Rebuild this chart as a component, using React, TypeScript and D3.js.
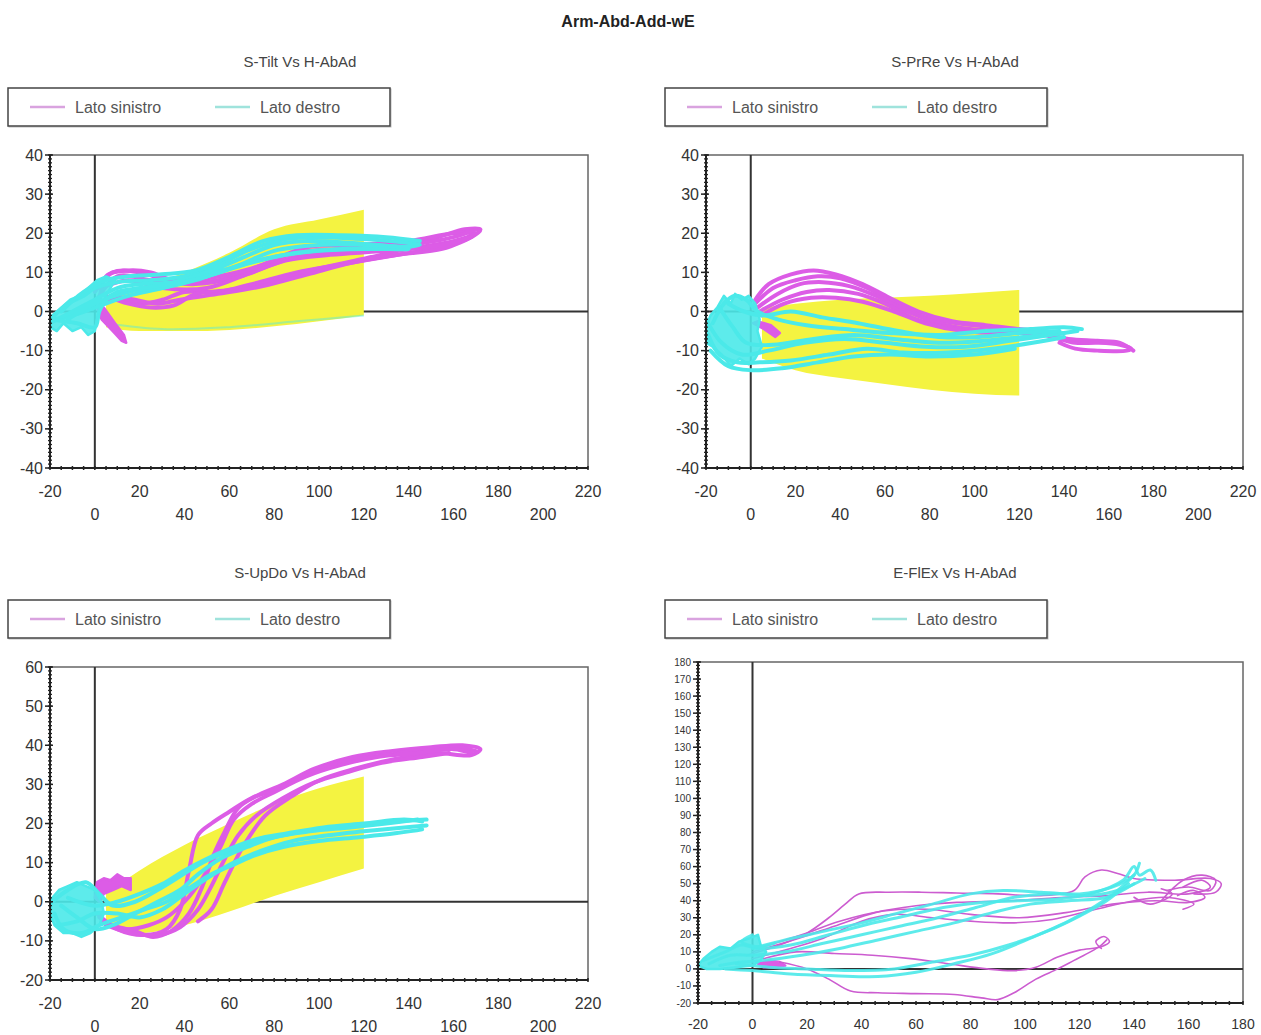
import React from 'react';
import * as d3 from 'd3';

// page title and legend labels
const chartTitle = 'Arm-Abd-Add-wE';
const legendLabels = ['Lato sinistro', 'Lato destro'];
const panelTitles = ['S-Tilt Vs H-AbAd', 'S-PrRe Vs H-AbAd', 'S-UpDo Vs H-AbAd', 'E-FlEx Vs H-AbAd'];

// tick values
const xTicksWide = [-20, 0, 20, 40, 60, 80, 100, 120, 140, 160, 180, 200, 220];
const xTicksElbow = [-20, 0, 20, 40, 60, 80, 100, 120, 140, 160, 180];
const yTicksShoulder = [-40, -30, -20, -10, 0, 10, 20, 30, 40];
const yTicksUpDo = [-20, -10, 0, 10, 20, 30, 40, 50, 60];
const yTicksElbow = [-20, -10, 0, 10, 20, 30, 40, 50, 60, 70, 80, 90, 100, 110, 120, 130, 140, 150, 160, 170, 180];

// normative (yellow) bands
const bandX = [5, 20, 40, 60, 80, 100, 120];
const tiltBandHi = [3, 6, 10, 15, 21, 23.5, 26];
const tiltBandLo = [-4, -5, -5, -4.7, -3.8, -2.5, -1];
const prreBandHi = [1, 2, 3, 3.5, 4, 4.7, 5.5];
const prreBandLo = [-12, -15, -17, -18.5, -20, -21, -21.5];
const updoBandHi = [2, 8, 14.5, 20, 25, 29, 32];
const updoBandLo = [-6, -8, -6, -2.5, 1.5, 5, 8.5];

type Pt = [number, number];

// S-Tilt traces
const tiltLeft: Pt[][] = [
  [[2, 2], [5, 9], [15, 10.5], [25, 10], [35, 8], [50, 8.5], [70, 11], [90, 15], [110, 16], [130, 17], [150, 18.5], [165, 21], [172, 21], [168, 19], [150, 16], [130, 14], [110, 12], [90, 10], [70, 7], [55, 5], [40, 5], [30, 3], [20, 2], [10, 3], [2, 2]],
  [[0, 5], [8, 10], [20, 10], [35, 7.5], [55, 8], [75, 12], [95, 16.5], [115, 17], [140, 18], [160, 20], [170, 20], [160, 18], [140, 16], [120, 13.5], [100, 11], [80, 8], [60, 5.5], [45, 4.5], [35, 1.5], [25, 1], [15, 2], [5, 4]],
  [[1, 3], [10, 9], [25, 8], [45, 7], [65, 9], [85, 13], [105, 14.5], [130, 15.5], [155, 17], [168, 19], [155, 16], [135, 14.5], [115, 12.5], [95, 9.5], [75, 6.5], [55, 4.5], [38, 3], [28, 2], [18, 3], [8, 4]],
  [[3, 6], [15, 8], [30, 6], [50, 6], [70, 10], [90, 14], [110, 15], [135, 16.5], [160, 19], [170, 21]],
];
const tiltLeftBlobs: Pt[][] = [
  [[1, 1], [3, -2], [8, -5], [12, -7.5], [14, -8], [13, -6], [9, -3], [4, 1]],
];
const tiltRight: Pt[][] = [
  [[-18, -1], [-12, 2], [-5, 4], [0, 6], [10, 7.5], [25, 8], [40, 9], [55, 12], [70, 16], [85, 18.5], [100, 19], [120, 18.5], [140, 17.5], [145, 17], [130, 16], [110, 16], [90, 15], [70, 12.5], [50, 9], [30, 6], [15, 4], [0, 1], [-10, -1], [-18, -2]],
  [[-20, -3], [-10, 0], [0, 3], [10, 6], [20, 7], [35, 7.5], [50, 10], [65, 13.5], [80, 17], [95, 18], [115, 17.5], [135, 16.5], [140, 16], [120, 16], [100, 15.5], [80, 14], [60, 11], [45, 8], [30, 6], [15, 5], [0, 2], [-12, -2]],
  [[-15, 0], [-5, 5], [5, 8], [15, 9], [30, 9.5], [45, 10.5], [60, 14], [75, 18], [90, 19.5], [110, 19.5], [130, 19], [145, 18]],
  [[-20, -2], [-8, -3], [0, -4], [2, 0], [5, 3], [10, 5], [20, 6], [35, 7], [50, 9], [65, 12], [80, 15.5], [100, 17], [120, 17], [140, 16.5]],
];
const tiltRightBlobs: Pt[][] = [
  [[-20, -4], [-19, -1], [-15, 1], [-11, 3], [-7, 4], [-3, 6], [1, 8], [5, 9], [9, 8], [6, 5], [3, 2], [1, -2], [0, -5], [-3, -6], [-6, -4], [-10, -5], [-14, -3], [-17, -5]],
];
const tiltFaint: Pt[][] = [
  [[5, -3], [30, -4.5], [60, -4], [90, -2.5], [120, -1]],
];

// S-PrRe traces
const prreLeft: Pt[][] = [
  [[2, 3], [8, 7], [18, 9.5], [28, 10.5], [38, 9.5], [50, 7], [62, 3.5], [75, 0], [90, -2.5], [105, -3.5], [120, -4.5], [130, -5]],
  [[2, 2], [10, 6], [20, 8], [30, 9], [40, 8.5], [52, 6], [65, 2], [78, -1.5], [92, -3], [108, -4], [122, -5], [135, -6.5], [145, -8], [155, -8], [165, -8.5], [170, -9.5], [168, -10], [155, -10], [145, -9.5], [138, -8]],
  [[3, 1], [12, 4.5], [22, 7], [32, 7.5], [44, 6.5], [56, 4], [70, 0], [84, -3], [98, -4.5], [114, -5], [128, -5.5], [142, -7], [155, -7.5], [165, -8], [171, -10]],
  [[4, 0], [14, 3], [25, 5], [35, 5.5], [48, 4.5], [60, 2], [74, -2], [88, -4], [104, -5], [120, -5.5], [135, -6]],
  [[5, -1], [15, 2], [27, 3.5], [38, 3.5], [50, 2.5], [64, 0], [78, -3], [95, -5], [112, -5.5], [128, -5]],
];
const prreLeftBlobs: Pt[][] = [
  [[1, -3], [6, -4.5], [11, -6.5], [13, -5.5], [9, -3.5], [3, -2.5]],
];
const prreRight: Pt[][] = [
  [[-17, -3], [-12, 2], [-7, 4], [-2, 3], [3, 0], [12, -2], [25, -3.5], [42, -4.5], [62, -5.5], [85, -6], [105, -5], [125, -4.5], [140, -4], [148, -4.5]],
  [[-19, -6], [-14, -11], [-6, -13], [4, -13], [18, -12.5], [35, -11], [52, -9.5], [68, -10.5], [88, -10.5], [108, -9.5], [126, -8], [140, -6.5]],
  [[-20, -2], [-13, -8], [-4, -11], [8, -10], [24, -8], [42, -7], [60, -8], [78, -9], [96, -9], [116, -7.5], [134, -6], [146, -5]],
  [[-14, 1], [-8, -4], [-2, -8], [10, -8.5], [28, -7], [46, -6], [64, -7], [84, -8], [104, -7.5], [122, -6.5], [140, -5.5]],
  [[-10, 2], [-3, 0], [6, -1], [18, 0], [32, -1.5], [48, -3], [66, -5], [84, -6.5], [102, -6.5], [120, -5.5], [138, -5]],
  [[-18, -10], [-10, -14], [0, -15], [14, -14.5], [30, -13], [46, -11.5], [62, -11], [80, -11.5], [100, -11], [118, -9.5]],
];
const prreRightBlobs: Pt[][] = [
  [[-20, -4], [-18, -1], [-15, 1], [-12, 4], [-9, 2], [-7, 4.5], [-4, 3], [-1, 4], [2, 2], [4, -2], [3, -5], [5, -9], [2, -12], [-1, -13.5], [-5, -12], [-9, -14], [-13, -11], [-17, -9], [-20, -8]],
];

// S-UpDo traces
const updoLeft: Pt[][] = [
  [[2, -4], [8, -6], [18, -7.5], [26, -9], [34, -7.5], [42, -3], [48, 4], [53, 12], [58, 18], [64, 24], [72, 27], [84, 30], [98, 34], [115, 37], [132, 38.5], [150, 39.5], [164, 40], [172, 39], [168, 37.5], [152, 38], [134, 36.5], [116, 34], [100, 31], [88, 27], [76, 22], [66, 14], [58, 5], [52, -2], [46, -5]],
  [[1, -3], [10, -7], [22, -8.5], [32, -7], [38, -2], [42, 8], [46, 17], [52, 20], [60, 23], [70, 26.5], [82, 29], [96, 33], [112, 36], [130, 37.5], [148, 39], [162, 39.5], [170, 38.5]],
  [[3, -5], [14, -7], [24, -6], [32, -4], [40, 0], [48, 6], [56, 14], [62, 21], [70, 25], [80, 28], [94, 32], [110, 35], [126, 37], [144, 38], [160, 39], [168, 38]],
  [[5, -6], [16, -8], [28, -8.5], [38, -6.5], [46, -2], [52, 4], [58, 11], [64, 17], [72, 22], [84, 26.5], [98, 30.5], [112, 33], [128, 35.5], [146, 37], [158, 38]],
];
const updoLeftBlobs: Pt[][] = [
  [[0, 1], [1, 5], [4, 6], [7, 5.5], [10, 7], [13, 6], [16, 6], [16, 3], [12, 4], [8, 3], [4, 2], [2, 0]],
];
const updoRight: Pt[][] = [
  [[-18, -3], [-14, -7], [-6, -8], [2, -6], [12, -4], [22, -2], [32, 0], [42, 3.5], [52, 7], [62, 9.5], [72, 12], [84, 14], [100, 15.5], [118, 16.5], [134, 17.5], [146, 18.5]],
  [[-19, 0], [-12, 3], [-4, 5], [2, 2], [8, -1], [18, 0], [28, 3], [38, 6.5], [48, 10], [58, 12.5], [70, 15], [84, 17], [100, 18.5], [118, 19.5], [134, 20.5], [148, 21]],
  [[-17, -6], [-8, -5], [0, -3], [10, -3], [20, -4], [30, -2], [40, 2], [50, 6], [62, 10], [74, 13], [88, 15.5], [104, 17], [120, 18], [138, 19], [148, 19.5]],
  [[-15, -1], [-8, -4], [0, -7], [8, -6], [18, -3], [28, 0], [38, 3], [46, 7], [56, 11], [68, 14], [80, 16.5], [96, 18], [114, 19], [130, 20], [144, 21]],
  [[-12, 1], [0, -1], [10, 0], [20, 2], [30, 4.5], [40, 8], [50, 11], [60, 13.5], [72, 16], [86, 17.5], [102, 19], [120, 20], [138, 21], [146, 20.5]],
];
const updoRightBlobs: Pt[][] = [
  [[-20, -3], [-19, 1], [-16, 3], [-12, 4], [-8, 5], [-4, 4], [0, 3], [3, 0], [4, -3], [2, -6], [-2, -8], [-6, -9], [-10, -8], [-14, -8], [-18, -6]],
];

// E-FlEx traces
const flexLeft: Pt[][] = [
  [[-2, 8], [10, 14], [20, 21], [28, 30], [34, 38], [39, 44], [50, 45], [62, 45], [75, 44.5], [90, 44], [105, 43], [118, 46], [122, 54], [128, 58], [134, 56], [140, 53], [155, 52], [168, 53], [172, 50], [170, 45], [162, 44]],
  [[0, 10], [15, 17], [30, 25], [45, 33], [60, 37], [75, 39], [95, 40], [115, 42], [130, 43], [145, 45], [160, 44], [168, 48], [165, 52], [158, 48]],
  [[2, 12], [18, 20], [32, 28], [48, 34], [64, 35], [80, 32], [98, 30], [115, 33], [132, 38], [148, 40], [160, 39], [166, 42], [162, 46], [156, 43]],
  [[0, 6], [14, 12], [26, 18], [40, 28], [52, 32], [66, 30], [80, 28], [96, 27], [110, 29], [126, 35], [140, 40], [152, 42], [162, 38], [158, 35]],
  [[4, 6], [16, 10], [30, 9], [44, 8], [58, 6], [72, 3], [86, 0], [96, -1], [104, 1], [112, 7], [120, 11], [128, 13], [131, 16], [129, 19], [126, 16], [128, 12]],
  [[10, 4], [20, 0], [28, -6], [36, -13], [46, -14], [60, -14.5], [74, -15], [84, -17], [90, -18], [96, -14], [104, -6], [112, 0], [118, 5], [124, 10], [128, 14], [130, 17]],
  [[150, 40], [158, 52], [165, 55], [170, 52], [168, 46], [160, 48], [152, 46]],
  [[140, 42], [146, 38], [154, 44], [150, 47]],
];
const flexLeftBlobs: Pt[][] = [
  [[2, 3], [6, 5], [10, 4], [12, 2], [8, 1], [4, 1]],
];
const flexRight: Pt[][] = [
  [[-18, 5], [-10, 10], [-4, 14], [2, 12], [14, 14], [28, 20], [42, 26], [56, 31], [70, 36], [84, 39], [98, 40], [112, 41], [124, 44], [136, 52], [140, 60], [142, 55], [146, 58], [148, 52]],
  [[-16, 3], [-8, 8], [0, 8], [12, 10], [26, 15], [40, 20], [54, 25], [68, 30], [82, 36], [96, 42], [110, 44], [124, 43], [136, 47], [144, 53]],
  [[-12, 2], [-4, 4], [4, 5], [18, 8], [32, 12], [46, 17], [60, 22], [74, 27], [88, 33], [102, 38], [116, 40], [130, 42], [140, 50]],
  [[0, 12], [12, 17], [26, 22], [40, 27], [54, 33], [66, 38], [80, 44], [92, 46], [106, 45], [120, 44], [132, 48], [140, 55], [142, 62]],
  [[-10, 0], [0, -1], [14, -3], [30, -4], [46, -4.5], [60, -2], [74, 3], [88, 9], [102, 18], [116, 28], [126, 37], [134, 46], [140, 55]],
  [[-6, 3], [6, 1], [20, 0], [36, -1], [52, 0], [66, 4], [80, 8], [94, 14], [108, 22], [120, 31], [130, 40], [138, 50]],
  [[0, 20], [-4, 16], [2, 13], [8, 15]],
];
const flexRightBlobs: Pt[][] = [
  [[-20, 2], [-18, 6], [-15, 10], [-12, 13], [-8, 12], [-5, 16], [-1, 18], [2, 20], [3, 14], [5, 10], [3, 5], [0, 2], [-6, 1], [-12, 0], [-17, 0]],
];

const MAGENTA = '#dc5ce6';
const CYAN = '#4be9e9';
const YELLOW = '#f4f341';
const FONT = '"Liberation Sans", Arial, sans-serif';

type Band = { x: number[]; hi: number[]; lo: number[] };
type PanelCfg = {
  title: string;
  titleX: number; titleY: number;
  legendX: number; legendY: number;
  l: number; r: number; t: number; b: number;
  xDomain: [number, number]; yDomain: [number, number];
  xTicks: number[]; yTicks: number[];
  twoRow: boolean;
  yMinor: number; xMinor: number;
  tickFont: number;
  band?: Band;
  left: Pt[][]; right: Pt[][];
  leftBlobs: Pt[][]; rightBlobs: Pt[][];
  faint?: Pt[][];
  thin?: boolean;
};

const panels: PanelCfg[] = [
  {
    title: panelTitles[0], titleX: 300, titleY: 67, legendX: 8, legendY: 88,
    l: 50, r: 588, t: 155, b: 468, xDomain: [-20, 220], yDomain: [-40, 40],
    xTicks: xTicksWide, yTicks: yTicksShoulder, twoRow: true, yMinor: 1, xMinor: 5, tickFont: 16,
    band: { x: bandX, hi: tiltBandHi, lo: tiltBandLo }, left: tiltLeft, right: tiltRight,
    leftBlobs: tiltLeftBlobs, rightBlobs: tiltRightBlobs, faint: tiltFaint,
  },
  {
    title: panelTitles[1], titleX: 955, titleY: 67, legendX: 665, legendY: 88,
    l: 706, r: 1243, t: 155, b: 468, xDomain: [-20, 220], yDomain: [-40, 40],
    xTicks: xTicksWide, yTicks: yTicksShoulder, twoRow: true, yMinor: 1, xMinor: 5, tickFont: 16,
    band: { x: bandX, hi: prreBandHi, lo: prreBandLo }, left: prreLeft, right: prreRight,
    leftBlobs: prreLeftBlobs, rightBlobs: prreRightBlobs,
  },
  {
    title: panelTitles[2], titleX: 300, titleY: 578, legendX: 8, legendY: 600,
    l: 50, r: 588, t: 667, b: 980, xDomain: [-20, 220], yDomain: [-20, 60],
    xTicks: xTicksWide, yTicks: yTicksUpDo, twoRow: true, yMinor: 1, xMinor: 5, tickFont: 16,
    band: { x: bandX, hi: updoBandHi, lo: updoBandLo }, left: updoLeft, right: updoRight,
    leftBlobs: updoLeftBlobs, rightBlobs: updoRightBlobs,
  },
  {
    title: panelTitles[3], titleX: 955, titleY: 578, legendX: 665, legendY: 600,
    l: 698, r: 1243, t: 662, b: 1003, xDomain: [-20, 180], yDomain: [-20, 180],
    xTicks: xTicksElbow, yTicks: yTicksElbow, twoRow: false, yMinor: 2, xMinor: 5, tickFont: 10,
    left: flexLeft, right: flexRight, leftBlobs: flexLeftBlobs, rightBlobs: flexRightBlobs, thin: true,
  },
];

function Panel({ cfg, idx }: { cfg: PanelCfg; idx: number }) {
  const x = d3.scaleLinear().domain(cfg.xDomain).range([cfg.l, cfg.r]);
  const y = d3.scaleLinear().domain(cfg.yDomain).range([cfg.b, cfg.t]);
  const line = d3.line<Pt>().x(d => x(d[0])).y(d => y(d[1])).curve(d3.curveCatmullRom.alpha(0.5));
  const closed = d3.line<Pt>().x(d => x(d[0])).y(d => y(d[1])).curve(d3.curveLinearClosed);
  const clipId = `clip-${idx}`;

  let bandPath = '';
  if (cfg.band) {
    const band = cfg.band;
    const area = d3.area<number>()
      .x((_, i) => x(band.x[i]))
      .y0((_, i) => y(band.lo[i]))
      .y1(d => y(d))
      .curve(d3.curveMonotoneX);
    bandPath = area(band.hi) || '';
  }

  const yMinorTicks = d3.range(cfg.yDomain[0], cfg.yDomain[1] + 0.001, cfg.yMinor);
  const xMinorTicks = d3.range(cfg.xDomain[0], cfg.xDomain[1] + 0.001, cfg.xMinor);
  const lx = cfg.legendX, ly = cfg.legendY;
  const magW = cfg.thin ? 1.6 : 4;
  const cyW = cfg.thin ? 3 : 4;
  const magC = cfg.thin ? '#cc5cd0' : MAGENTA;

  return (
    <g>
      <text x={cfg.titleX} y={cfg.titleY} textAnchor="middle" fontSize={15} fill="#444" fontFamily={FONT}>{cfg.title}</text>

      {/* legend */}
      <rect x={lx + 1} y={ly + 1} width={382} height={38} fill="none" stroke="#bbb" strokeWidth={1} />
      <rect x={lx} y={ly} width={382} height={38} fill="#fff" stroke="#444" strokeWidth={1.5} />
      <line x1={lx + 22} x2={lx + 57} y1={ly + 19} y2={ly + 19} stroke="#d9a3df" strokeWidth={2.5} />
      <text x={lx + 67} y={ly + 25} fontSize={16} fill="#555" fontFamily={FONT}>{legendLabels[0]}</text>
      <line x1={lx + 207} x2={lx + 242} y1={ly + 19} y2={ly + 19} stroke="#9fe3dc" strokeWidth={2.5} />
      <text x={lx + 252} y={ly + 25} fontSize={16} fill="#555" fontFamily={FONT}>{legendLabels[1]}</text>

      <clipPath id={clipId}>
        <rect x={cfg.l} y={cfg.t} width={cfg.r - cfg.l} height={cfg.b - cfg.t} />
      </clipPath>

      <rect x={cfg.l} y={cfg.t} width={cfg.r - cfg.l} height={cfg.b - cfg.t} fill="#fff" stroke="#666" strokeWidth={1.5} />

      <g clipPath={`url(#${clipId})`}>
        <line x1={cfg.l} x2={cfg.r} y1={y(0)} y2={y(0)} stroke="#333" strokeWidth={2} />
        <line x1={x(0)} x2={x(0)} y1={cfg.t} y2={cfg.b} stroke="#333" strokeWidth={2} />
        {bandPath && <path d={bandPath} fill={YELLOW} />}
        {(cfg.faint || []).map((tr, i) => (
          <path key={`f${i}`} d={line(tr) || ''} fill="none" stroke={CYAN} strokeOpacity={0.45} strokeWidth={2} />
        ))}
        {cfg.leftBlobs.map((tr, i) => (
          <path key={`lb${i}`} d={closed(tr) || ''} fill={MAGENTA} stroke={MAGENTA} strokeWidth={2.5} strokeLinejoin="round" />
        ))}
        {cfg.left.map((tr, i) => (
          <path key={`m${i}`} d={line(tr) || ''} fill="none" stroke={magC}
            strokeWidth={magW} strokeLinejoin="round" strokeLinecap="round" />
        ))}
        {cfg.rightBlobs.map((tr, i) => (
          <path key={`rb${i}`} d={closed(tr) || ''} fill={CYAN} fillOpacity={0.9} stroke={CYAN} strokeWidth={2.5} strokeLinejoin="round" />
        ))}
        {cfg.right.map((tr, i) => (
          <path key={`c${i}`} d={line(tr) || ''} fill="none" stroke={CYAN}
            strokeWidth={cyW} strokeLinejoin="round" strokeLinecap="round" strokeOpacity={cfg.thin ? 0.9 : 1} />
        ))}
      </g>

      {/* left axis, dotted look */}
      <line x1={cfg.l} x2={cfg.l} y1={cfg.t} y2={cfg.b} stroke="#222" strokeWidth={2} />
      {yMinorTicks.map(v => (
        <line key={`ym${v}`} x1={cfg.l - 2} x2={cfg.l + 2} y1={y(v)} y2={y(v)} stroke="#222" strokeWidth={1.3} />
      ))}
      {cfg.yTicks.map(v => (
        <g key={`yt${v}`}>
          <line x1={cfg.l - 5} x2={cfg.l + 3} y1={y(v)} y2={y(v)} stroke="#222" strokeWidth={1.5} />
          <text x={cfg.l - 7} y={y(v)} dy="0.35em" textAnchor="end" fontSize={cfg.tickFont} fill="#333" fontFamily={FONT}>{v}</text>
        </g>
      ))}

      {/* bottom axis */}
      <line x1={cfg.l} x2={cfg.r} y1={cfg.b} y2={cfg.b} stroke="#222" strokeWidth={2} />
      {xMinorTicks.map(v => (
        <line key={`xm${v}`} x1={x(v)} x2={x(v)} y1={cfg.b - 2} y2={cfg.b + 2} stroke="#222" strokeWidth={1.5} />
      ))}
      {cfg.xTicks.map((v, i) => {
        const row = cfg.twoRow ? (i % 2 === 0 ? 0 : 1) : 0;
        const ty = cfg.twoRow ? cfg.b + 29 + row * 23 : cfg.b + 26;
        return (
          <text key={`xt${v}`} x={x(v)} y={ty} textAnchor="middle" fontSize={cfg.twoRow ? 16 : 14} fill="#333" fontFamily={FONT}>{v}</text>
        );
      })}
    </g>
  );
}

export default function App() {
  return (
    <svg width={1261} height={1035} style={{ position: 'absolute', left: 0, top: 0, background: '#fff' }}>
      <rect width={1261} height={1035} fill="#fff" />
      <text x={628} y={27} textAnchor="middle" fontSize={16} fontWeight="bold" fill="#222" fontFamily={FONT}>{chartTitle}</text>
      {panels.map((p, i) => <Panel key={i} cfg={p} idx={i} />)}
    </svg>
  );
}
